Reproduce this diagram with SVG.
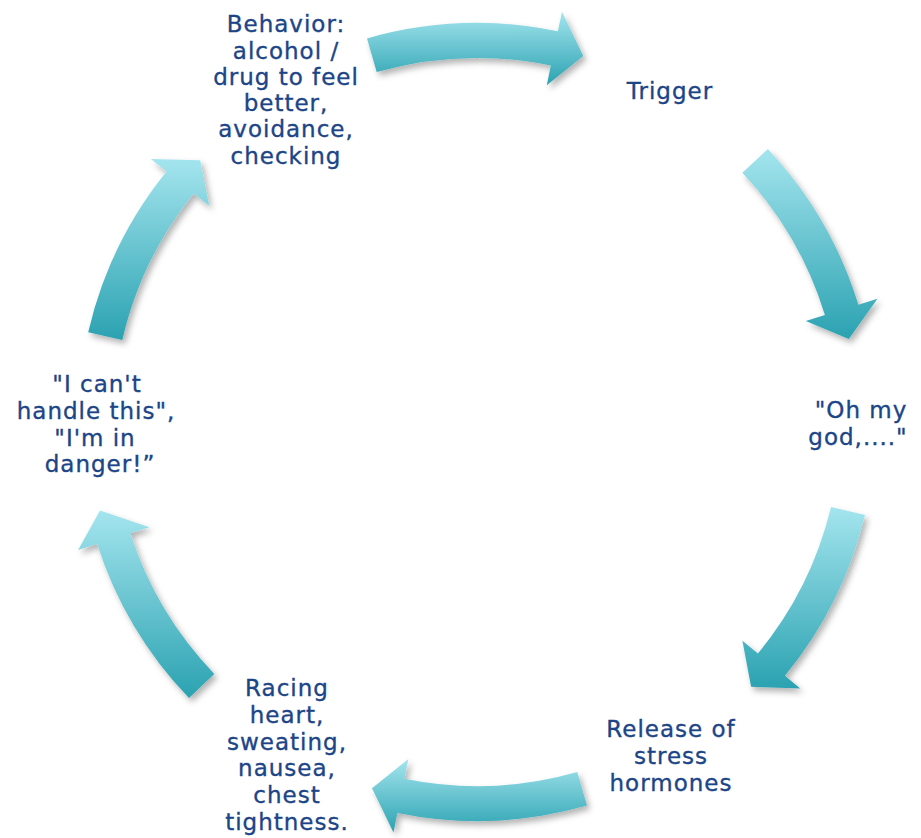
<svg xmlns="http://www.w3.org/2000/svg" width="921" height="838" viewBox="0 0 921 838">
<defs>
<linearGradient id="g" x1="0" y1="0" x2="0" y2="1">
<stop offset="0" stop-color="#a4e5ee"/>
<stop offset="1" stop-color="#2ba2b1"/>
</linearGradient>
<filter id="sh" x="-20%" y="-20%" width="140%" height="140%">
<feDropShadow dx="3" dy="4" stdDeviation="3" flood-color="#000" flood-opacity="0.3"/>
</filter>
</defs>
<style>
.arr{fill:url(#g);filter:url(#sh)}
.t{font-family:"DejaVu Sans","Verdana",sans-serif;font-size:23px;letter-spacing:1px;fill:#1c4587;stroke:#1c4587;stroke-width:0.35px;text-anchor:middle}
</style>
<rect width="921" height="838" fill="#fff"/>
<g id="connectors">
<path class="arr" d="M367,38.4 A399,399 0 0 1 557.9,31.3 L562,11.7 L583.3,56.1 L546.8,85.2 L550.8,65.6 A364,364 0 0 0 376.7,72.1 Z"/>
<path class="arr" d="M767.9,148.9 A399,399 0 0 1 858.4,304.7 L877.5,298.8 L848.8,338.9 L805.8,320.9 L824.9,315 A364,364 0 0 0 742.4,172.8 Z"/>
<path class="arr" d="M865,515.1 A399,399 0 0 1 784.9,675.8 L800.3,688.5 L751.1,686.7 L742.4,640.8 L757.9,653.5 A364,364 0 0 0 831,507 Z"/>
<path class="arr" d="M587,805.6 A399,399 0 0 1 397.4,813 L393.5,832.6 L372,788.3 L408.4,759.1 L404.4,778.7 A364,364 0 0 0 577.3,771.9 Z"/>
<path class="arr" d="M189,698.1 A399,399 0 0 1 97.1,544 L78.1,550.1 L100,510.5 L149.5,527.2 L130.4,533.3 A364,364 0 0 0 214.3,673.9 Z"/>
<path class="arr" d="M88.2,332.2 A399,399 0 0 1 166.5,171.4 L150.9,158.9 L200.2,160.2 L209.3,206 L193.7,193.4 A364,364 0 0 0 122.3,340.1 Z"/>
</g>
<g id="behavior">
<text class="t" x="286" y="32">Behavior:</text>
<text class="t" x="286" y="58.5">alcohol /</text>
<text class="t" x="286" y="85">drug to feel</text>
<text class="t" x="286" y="111">better,</text>
<text class="t" x="286" y="137">avoidance,</text>
<text class="t" x="286" y="163.5">checking</text>
</g>
<g id="trigger">
<text class="t" x="670" y="99">Trigger</text>
</g>
<g id="ohmygod">
<text class="t" x="861" y="418">"Oh my</text>
<text class="t" x="858" y="445">god,...."</text>
</g>
<g id="release">
<text class="t" x="671" y="737">Release of</text>
<text class="t" x="671" y="764">stress</text>
<text class="t" x="671" y="791">hormones</text>
</g>
<g id="racing">
<text class="t" x="287" y="696">Racing</text>
<text class="t" x="287" y="723">heart,</text>
<text class="t" x="287" y="750">sweating,</text>
<text class="t" x="287" y="776">nausea,</text>
<text class="t" x="287" y="803">chest</text>
<text class="t" x="287" y="830">tightness.</text>
</g>
<g id="cant">
<text class="t" x="97" y="392">"I can't</text>
<text class="t" x="96" y="419">handle this",</text>
<text class="t" x="95" y="446">"I'm in</text>
<text class="t" x="100" y="472">danger!”</text>
</g>
</svg>
